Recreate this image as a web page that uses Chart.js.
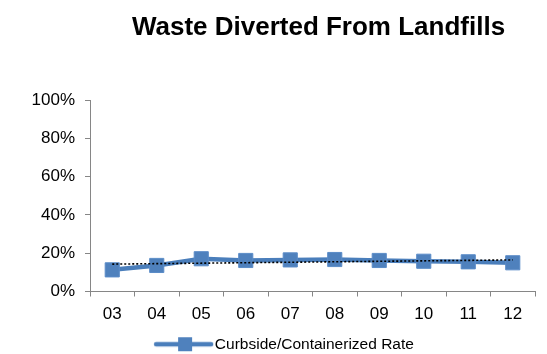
<!DOCTYPE html>
<html>
<head>
<meta charset="utf-8">
<script src="https://cdn.jsdelivr.net/npm/chart.js@4/dist/chart.umd.min.js"></script>
<style>
  html, body { margin: 0; padding: 0; background: #ffffff; }
  #wrap { width: 547px; height: 354px; }
</style>
</head>
<body>
<div id="wrap"><canvas id="c" width="547" height="354"></canvas></div>
<script>
// Years (two-digit labels) and the diversion rate, in percent
const years = ['03', '04', '05', '06', '07', '08', '09', '10', '11', '12'];
const curbsideRate = [11.3, 13.6, 17.1, 16.2, 16.5, 16.7, 16.2, 15.8, 15.5, 15.0];
// Linear trend through the rate: value at the first and last year
const trendEnds = [14.3, 16.5];
const yTicks = [0, 20, 40, 60, 80, 100];

const chartTitle = 'Waste Diverted From Landfills';
const seriesName = 'Curbside/Containerized Rate';

const FONT = '"Liberation Sans", Arial, sans-serif';
const BLUE = '#4a7ebb';
const AXIS = '#868686';

// Trend line as a two-point series (first and last category)
const trendData = years.map((_, i) =>
  i === 0 ? trendEnds[0] : (i === years.length - 1 ? trendEnds[1] : null));

// Legend sample: a line with a square marker on it
function legendSample() {
  const cv = document.createElement('canvas');
  cv.width = 74; cv.height = 16;
  const g = cv.getContext('2d');
  g.strokeStyle = BLUE;
  g.lineWidth = 4.5;
  g.lineCap = 'round';
  g.beginPath(); g.moveTo(15, 8); g.lineTo(70, 8); g.stroke();
  g.fillStyle = '#4f81bd';
  g.fillRect(37, 1, 14, 14);
  return cv;
}

// Title centred over the plot area
const titlePlugin = {
  id: 'plotTitle',
  afterDraw(chart) {
    const { ctx, chartArea } = chart;
    ctx.save();
    ctx.font = 'bold 26px ' + FONT;
    ctx.fillStyle = '#000000';
    ctx.textAlign = 'center';
    ctx.textBaseline = 'alphabetic';
    ctx.fillText(chartTitle, (chartArea.left + chartArea.right) / 2 + 6, 35);
    ctx.restore();
  }
};

new Chart(document.getElementById('c'), {
  type: 'line',
  data: {
    labels: years,
    datasets: [
      {
        label: 'trend',
        data: trendData,
        spanGaps: true,
        borderColor: '#000000',
        borderWidth: 1.6,
        borderDash: [2, 2],
        pointRadius: 0,
        fill: false,
        order: 0
      },
      {
        label: seriesName,
        data: curbsideRate,
        borderColor: BLUE,
        borderWidth: 4.5,
        pointStyle: 'rect',
        pointRadius: 10,
        pointBackgroundColor: '#4f81bd',
        pointBorderColor: '#5b8cc8',
        pointBorderWidth: 1,
        tension: 0,
        fill: false,
        order: 1
      }
    ]
  },
  options: {
    responsive: false,
    animation: false,
    layout: { padding: { top: 100, right: 12, bottom: -8, left: 28 } },
    plugins: {
      title: { display: false },
      tooltip: { enabled: false },
      legend: {
        position: 'bottom',
        labels: {
          filter: item => item.text !== 'trend',
          usePointStyle: true,
          pointStyle: legendSample(),
          pointStyleWidth: 58,
          boxHeight: 16,
          padding: 1,
          color: '#000000',
          font: { family: FONT, size: 15.5 },
          generateLabels(chart) {
            const items = Chart.defaults.plugins.legend.labels.generateLabels(chart);
            items.forEach(it => { it.pointStyle = legendSample(); });
            return items;
          }
        }
      }
    },
    scales: {
      x: {
        offset: true,
        grid: {
          offset: true,
          drawOnChartArea: false,
          drawTicks: true,
          tickLength: 5,
          color: AXIS
        },
        border: { color: AXIS, width: 1 },
        ticks: {
          color: '#000000',
          padding: 8,
          font: { family: FONT, size: 17 },
          maxRotation: 0
        },
        afterFit(scale) { scale.height = 44; }
      },
      y: {
        min: 0,
        max: 100,
        afterBuildTicks(scale) { scale.ticks = yTicks.map(v => ({ value: v })); },
        grid: {
          drawOnChartArea: false,
          drawTicks: true,
          tickLength: 5,
          color: AXIS
        },
        border: { color: AXIS, width: 1 },
        ticks: {
          color: '#000000',
          padding: 10,
          font: { family: FONT, size: 17 },
          callback: v => v + '%'
        },
        afterFit(scale) { scale.width = 62; }
      }
    }
  },
  plugins: [titlePlugin]
});
</script>
</body>
</html>
